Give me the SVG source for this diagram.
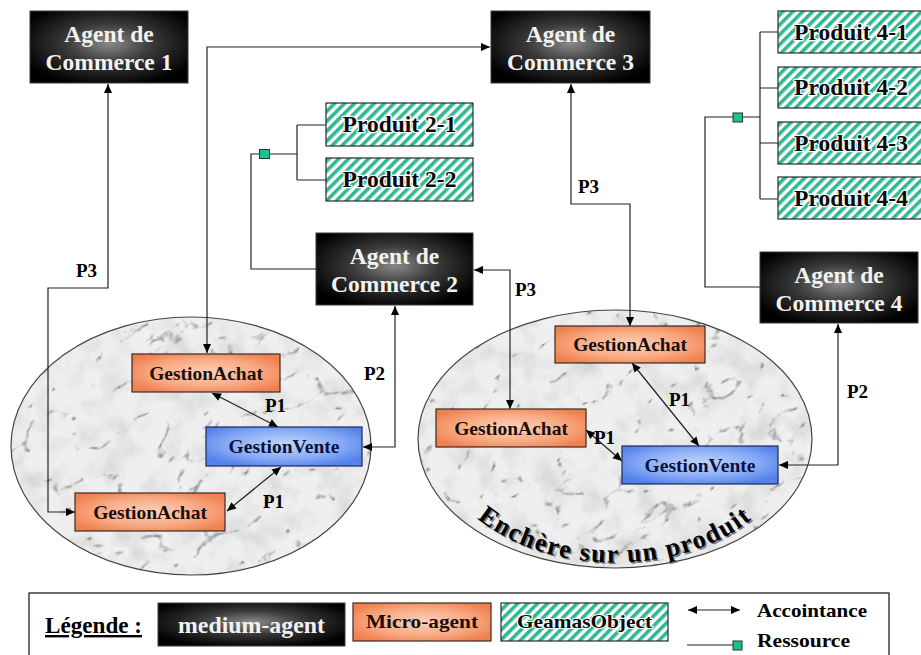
<svg xmlns="http://www.w3.org/2000/svg" width="921" height="655" viewBox="0 0 921 655">
<defs>
<style>
.t{font-family:"Liberation Serif","Times New Roman",serif;font-weight:bold;}
.agent-box{fill:url(#gAgent);stroke:#3a3a3a;stroke-width:1;}
.agent-txt{fill:#f2f2f2;font-size:23.5px;text-anchor:middle;}
.micro{fill:url(#gMicro);stroke:#3a2a20;stroke-width:1.2;}
.vente{fill:url(#gVente);stroke:#1a2a55;stroke-width:1.2;}
.mtxt{fill:#1a0e08;font-size:19.5px;text-anchor:middle;}
.vtxt{fill:#0b1238;font-size:19.5px;text-anchor:middle;}
.prod{fill:url(#hatch);stroke:#2a2a2a;stroke-width:1.2;}
.ptxt{fill:#0a0a0a;font-size:23.5px;text-anchor:middle;stroke:#ffffff;stroke-width:2.5px;paint-order:stroke;stroke-linejoin:round;}
.lbl{fill:#000;font-size:19px;}
.cn{fill:none;stroke:#222;stroke-width:1.2;}
.res{fill:#1fbf8f;stroke:#1a3a30;stroke-width:1;}
</style>
<radialGradient id="gAgent" cx="50%" cy="45%" r="60%">
<stop offset="0" stop-color="#8a8a8a"/>
<stop offset="0.45" stop-color="#3a3a3a"/>
<stop offset="1" stop-color="#000"/>
</radialGradient>
<radialGradient id="gMicro" cx="50%" cy="50%" r="60%">
<stop offset="0" stop-color="#fcd2bc"/>
<stop offset="0.6" stop-color="#f8a982"/>
<stop offset="1" stop-color="#ef8050"/>
</radialGradient>
<radialGradient id="gVente" cx="50%" cy="45%" r="60%">
<stop offset="0" stop-color="#c2d6fd"/>
<stop offset="0.6" stop-color="#89acf6"/>
<stop offset="1" stop-color="#5582ea"/>
</radialGradient>
<pattern id="hatch" width="7" height="7" patternUnits="userSpaceOnUse" patternTransform="rotate(45)">
<rect width="7" height="7" fill="#fff"/>
<rect width="3.6" height="7" fill="#2fb892"/>
</pattern>
<filter id="marble" x="0" y="0" width="100%" height="100%" color-interpolation-filters="sRGB">
<feTurbulence type="turbulence" baseFrequency="0.018 0.028" numOctaves="4" seed="11" result="n"/>
<feColorMatrix in="n" type="matrix" values="0 0 0 0 0.5  0 0 0 0 0.5  0 0 0 0 0.53  -7 0 0 0 0.95" result="v"/>
<feTurbulence type="fractalNoise" baseFrequency="0.04" numOctaves="3" seed="4" result="m"/>
<feColorMatrix in="m" type="matrix" values="0 0 0 0 0.65  0 0 0 0 0.65  0 0 0 0 0.67  0.7 0 0 0 -0.3" result="mm"/>
<feMerge result="all"><feMergeNode in="mm"/><feMergeNode in="v"/></feMerge>
<feComposite in="all" in2="SourceAlpha" operator="in"/>
</filter>
<clipPath id="c1"><ellipse cx="191" cy="446" rx="180" ry="129"/></clipPath>
<clipPath id="c2"><ellipse cx="615" cy="439" rx="197" ry="129"/></clipPath>
<marker id="ar" viewBox="0 0 10 10" refX="10" refY="5" markerWidth="10" markerHeight="9" markerUnits="userSpaceOnUse" orient="auto-start-reverse">
<path d="M0,0.5 L10,5 L0,9.5 z" fill="#000"/>
</marker>
<path id="arcTxt" d="M459.1,500.5 A180,124 0 0,0 770.9,500.5"/>
</defs>

<rect width="921" height="655" fill="#fff"/>

<g id="ellipse-1">
<ellipse cx="191" cy="446" rx="180" ry="129" fill="#efefef"/>
<g clip-path="url(#c1)"><g transform="rotate(-35 191 446)"><rect x="-60" y="220" width="500" height="460" fill="#000" filter="url(#marble)"/></g></g>
<ellipse cx="191" cy="446" rx="180" ry="129" fill="none" stroke="#444" stroke-width="1.2"/>
</g>
<g id="ellipse-2">
<ellipse cx="615" cy="439" rx="197" ry="129" fill="#efefef"/>
<g clip-path="url(#c2)"><g transform="rotate(-35 615 439)"><rect x="360" y="210" width="520" height="460" fill="#000" filter="url(#marble)"/></g></g>
<ellipse cx="615" cy="439" rx="197" ry="129" fill="none" stroke="#444" stroke-width="1.2"/>
<text class="t" font-size="26" fill="#777" transform="translate(1.5,1.5)"><textPath href="#arcTxt" startOffset="50%" text-anchor="middle" letter-spacing="1.6">Enchère sur un produit</textPath></text>
<text class="t" font-size="26" fill="#000"><textPath href="#arcTxt" startOffset="50%" text-anchor="middle" letter-spacing="1.6">Enchère sur un produit</textPath></text>
</g>

<g id="connectors">
<path class="cn" d="M108,84 L108,288 L48,288 L48,512 L75,512" marker-start="url(#ar)" marker-end="url(#ar)"/>
<path class="cn" d="M207,353 L207,47 L490,47" marker-start="url(#ar)" marker-end="url(#ar)"/>
<path class="cn" d="M571,84 L571,204 L630,204 L630,326" marker-start="url(#ar)" marker-end="url(#ar)"/>
<path class="cn" d="M474,270 L510,270 L510,409" marker-start="url(#ar)" marker-end="url(#ar)"/>
<path class="cn" d="M395,306 L395,447 L363,447" marker-start="url(#ar)" marker-end="url(#ar)"/>
<path class="cn" d="M838,324 L838,465 L779,465" marker-start="url(#ar)" marker-end="url(#ar)"/>
<path class="cn" d="M212,393 L278,427" marker-start="url(#ar)" marker-end="url(#ar)"/>
<path class="cn" d="M281,467 L227,511" marker-start="url(#ar)" marker-end="url(#ar)"/>
<path class="cn" d="M632,363 L699,446" marker-start="url(#ar)" marker-end="url(#ar)"/>
<path class="cn" d="M586,430 L622,461" marker-start="url(#ar)" marker-end="url(#ar)"/>
<path class="cn" d="M316,269 L251,269 L251,154 L297,154 M297,125 L297,180 M297,125 L326,125 M297,180 L326,180"/>
<rect class="res" x="259.5" y="149.5" width="10" height="9"/>
<path class="cn" d="M760,287 L705,287 L705,117 L760,117 M760,32 L760,199 M760,32 L778,32 M760,88 L778,88 M760,143 L778,143 M760,199 L778,199"/>
<rect class="res" x="733" y="113" width="9.5" height="9"/>
<text class="t lbl" x="76" y="277">P3</text>
<text class="t lbl" x="578" y="193">P3</text>
<text class="t lbl" x="515" y="296">P3</text>
<text class="t lbl" x="364" y="380">P2</text>
<text class="t lbl" x="847" y="398">P2</text>
<text class="t lbl" x="265" y="412">P1</text>
<text class="t lbl" x="263" y="508">P1</text>
<text class="t lbl" x="669" y="406">P1</text>
<text class="t lbl" x="594" y="444">P1</text>
</g>

<g id="agent-1"><rect class="agent-box" x="30" y="11" width="158" height="72"/><text class="t agent-txt" x="109" y="42">Agent de</text><text class="t agent-txt" x="109" y="70">Commerce 1</text></g>
<g id="agent-2"><rect class="agent-box" x="316" y="233" width="157" height="72"/><text class="t agent-txt" x="394.5" y="264">Agent de</text><text class="t agent-txt" x="394.5" y="292">Commerce 2</text></g>
<g id="agent-3"><rect class="agent-box" x="491" y="11" width="159" height="72"/><text class="t agent-txt" x="570.5" y="42">Agent de</text><text class="t agent-txt" x="570.5" y="70">Commerce 3</text></g>
<g id="agent-4"><rect class="agent-box" x="760" y="252" width="158" height="71"/><text class="t agent-txt" x="839" y="283">Agent de</text><text class="t agent-txt" x="839" y="311">Commerce 4</text></g>

<g id="produit-2-1"><rect class="prod" x="326" y="103" width="147" height="43"/><text class="t ptxt" x="399.5" y="132">Produit 2-1</text></g>
<g id="produit-2-2"><rect class="prod" x="326" y="158" width="147" height="43"/><text class="t ptxt" x="399.5" y="187">Produit 2-2</text></g>
<g id="produit-4-1"><rect class="prod" x="778" y="11" width="146" height="42"/><text class="t ptxt" x="851" y="40">Produit 4-1</text></g>
<g id="produit-4-2"><rect class="prod" x="778" y="67" width="146" height="41"/><text class="t ptxt" x="851" y="95">Produit 4-2</text></g>
<g id="produit-4-3"><rect class="prod" x="778" y="122" width="146" height="42"/><text class="t ptxt" x="851" y="151">Produit 4-3</text></g>
<g id="produit-4-4"><rect class="prod" x="778" y="177" width="146" height="42"/><text class="t ptxt" x="851" y="206">Produit 4-4</text></g>

<g id="achat-1a"><rect class="micro" x="132" y="354" width="148" height="38"/><text class="t mtxt" x="206" y="380">GestionAchat</text></g>
<g id="vente-1"><rect class="vente" x="206" y="427" width="156" height="39"/><text class="t vtxt" x="284" y="453">GestionVente</text></g>
<g id="achat-1b"><rect class="micro" x="75" y="493" width="150" height="38"/><text class="t mtxt" x="150" y="519">GestionAchat</text></g>
<g id="achat-2a"><rect class="micro" x="555" y="326" width="150" height="37"/><text class="t mtxt" x="630" y="351">GestionAchat</text></g>
<g id="achat-2b"><rect class="micro" x="436" y="409" width="150" height="38"/><text class="t mtxt" x="511" y="435">GestionAchat</text></g>
<g id="vente-2"><rect class="vente" x="622" y="446" width="156" height="38"/><text class="t vtxt" x="700" y="472">GestionVente</text></g>

<g id="legend">
<rect x="29" y="593" width="860" height="70" fill="none" stroke="#222" stroke-width="1.3"/>
<text class="t" x="45" y="633" font-size="24" fill="#000" text-decoration="underline" textLength="97" lengthAdjust="spacingAndGlyphs">Légende :</text>
<rect class="agent-box" x="158" y="603" width="187" height="43"/>
<text class="t" x="251.5" y="633" font-size="23" fill="#f2f2f2" text-anchor="middle" textLength="147" lengthAdjust="spacingAndGlyphs">medium-agent</text>
<rect class="micro" x="353" y="603" width="138" height="38"/>
<text class="t" x="422" y="628" font-size="19" fill="#1a0e08" text-anchor="middle" textLength="112" lengthAdjust="spacingAndGlyphs">Micro-agent</text>
<rect class="prod" x="501" y="603" width="167" height="38"/>
<text class="t" x="584.5" y="628" font-size="18" fill="#0a0a0a" text-anchor="middle" textLength="135" lengthAdjust="spacingAndGlyphs" stroke="#fff" stroke-width="2" paint-order="stroke">GeamasObject</text>
<path class="cn" d="M688,610 L740,610" marker-start="url(#ar)" marker-end="url(#ar)"/>
<text class="t" x="757" y="617" font-size="19" fill="#000" textLength="110" lengthAdjust="spacingAndGlyphs">Accointance</text>
<path class="cn" d="M687,645 L733,645"/>
<rect class="res" x="733" y="641" width="9" height="9"/>
<text class="t" x="757" y="647" font-size="19" fill="#000" textLength="93" lengthAdjust="spacingAndGlyphs">Ressource</text>
</g>
</svg>
